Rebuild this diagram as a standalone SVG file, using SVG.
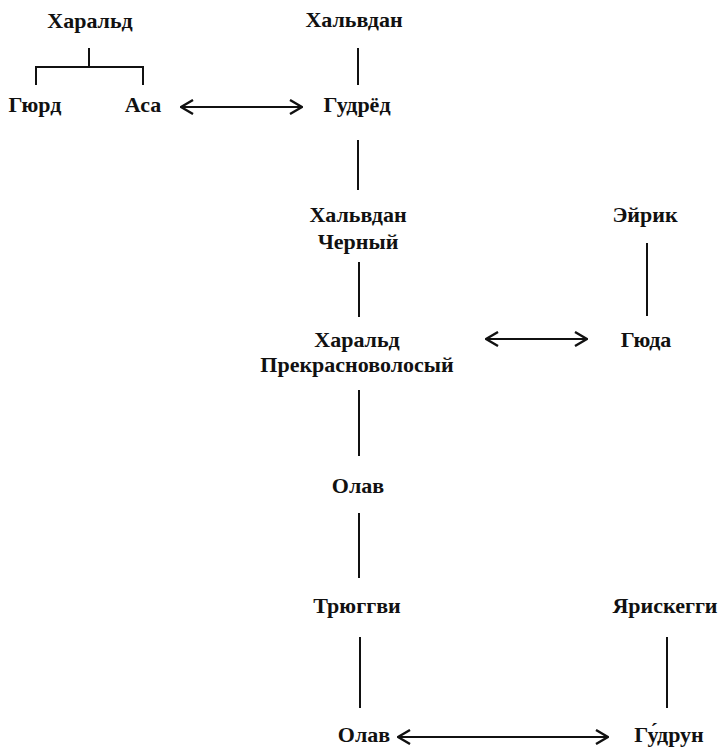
<svg xmlns="http://www.w3.org/2000/svg" width="725" height="747" viewBox="0 0 725 747">
<style>
text{font-family:"Liberation Serif","Times New Roman",serif;font-weight:bold;font-size:22px;fill:#111;text-anchor:middle}
.c line,.c polyline{stroke:#111;stroke-width:2;fill:none}
</style>
<defs>
<marker id="ah" viewBox="0 0 14 16" refX="13" refY="8" markerWidth="14" markerHeight="16" markerUnits="userSpaceOnUse" orient="auto-start-reverse">
<path d="M1,1 L13,8 L1,15" fill="none" stroke="#111" stroke-width="2.4"/>
</marker>
</defs>
<rect width="725" height="747" fill="#fff"/>
<g class="c" id="connectors">
<line x1="89" y1="48" x2="89" y2="67"/>
<polyline points="36,85 36,67 143,67 143,85"/>
<line x1="358" y1="48" x2="358" y2="85"/>
<line x1="181" y1="107" x2="302" y2="107" marker-start="url(#ah)" marker-end="url(#ah)"/>
<line x1="358" y1="140" x2="358" y2="190"/>
<line x1="359" y1="262" x2="359" y2="317"/>
<line x1="647" y1="243" x2="647" y2="316"/>
<line x1="486" y1="339" x2="587" y2="339" marker-start="url(#ah)" marker-end="url(#ah)"/>
<line x1="359" y1="390" x2="359" y2="456"/>
<line x1="359" y1="513" x2="359" y2="578"/>
<line x1="360" y1="637" x2="360" y2="708"/>
<line x1="667" y1="637" x2="667" y2="708"/>
<line x1="398" y1="737" x2="608" y2="737" marker-start="url(#ah)" marker-end="url(#ah)"/>
</g>
<g id="harald1"><text x="90" y="28">Харальд</text></g>
<g id="halfdan1"><text x="354" y="27">Хальвдан</text></g>
<g id="gyurd"><text x="35" y="112">Гюрд</text></g>
<g id="asa"><text x="143" y="112">Аса</text></g>
<g id="gudred"><text x="357" y="112">Гудрёд</text></g>
<g id="halfdan2"><text x="358" y="222">Хальвдан</text><text x="358" y="249">Черный</text></g>
<g id="eirik"><text x="645" y="222">Эйрик</text></g>
<g id="harald2"><text x="357" y="347">Харальд</text><text x="357" y="372">Прекрасноволосый</text></g>
<g id="gyuda"><text x="646" y="347">Гюда</text></g>
<g id="olav1"><text x="358" y="493">Олав</text></g>
<g id="tryggvi"><text x="357" y="613">Трюггви</text></g>
<g id="yariskeggi"><text x="665" y="613">Ярискегги</text></g>
<g id="olav2"><text x="364" y="742">Олав</text></g>
<g id="gudrun"><text x="669" y="742">Гу́друн</text></g>
</svg>
